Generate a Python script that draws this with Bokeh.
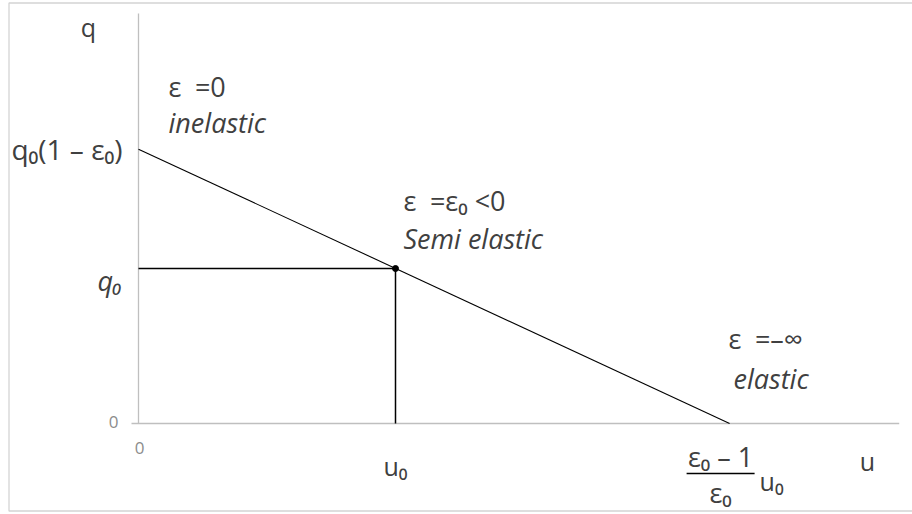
from bokeh.plotting import figure
from bokeh.core.properties import value
from bokeh.embed import file_html
from bokeh.resources import INLINE

# ---- data (in units of u0 and q0) ----
u0 = 1.0
q0 = 1.0
demand_u = [0.0, 2.30]          # u at q0(1-eps0) and at (eps0-1)/eps0 * u0
demand_q = [1.77, 0.0]          # q0(1-eps0) and 0
point_u = [u0]
point_q = [q0]
axis_u_end = 2.96
axis_q_end = 2.645

# pixel scale of the reference (px per unit)
PX_U = 257.0
PX_Q = 155.0

W, H = 912, 514
x0 = -138 / PX_U
x1 = x0 + W / PX_U
y1 = 423 / PX_Q
y0 = y1 - H / PX_Q

p = figure(width=W, height=H, x_range=(x0, x1), y_range=(y0, y1),
           x_axis_location=None, y_axis_location=None,
           toolbar_location=None, output_backend="svg",
           min_border=0, outline_line_color=None,
           background_fill_color="white", border_fill_color="white")
p.xgrid.visible = False
p.ygrid.visible = False

def du(px):
    return px / PX_U

def dq(px):
    return px / PX_Q

# outer border (top, left, bottom)
bx = x0 + du(8.5)
bt = y1 - dq(2.5)
bb = y1 - dq(510.5)
p.line([x1 + 1, bx, bx, x1 + 1], [bt, bt, bb, bb],
       line_color="#d4d4d4", line_width=1.3)

# axes
p.line([0, 0], [0, axis_q_end], line_color="#bfbfbf", line_width=1.3)
p.line([-du(7), axis_u_end], [0, 0], line_color="#bfbfbf", line_width=1.3)

# guides to (u0, q0)
p.line([0, point_u[0], point_u[0]], [point_q[0], point_q[0], 0], line_color="black", line_width=1.5)

# demand line
p.line(demand_u, demand_q, line_color="black", line_width=1.1)
p.scatter(point_u, point_q, size=6, color="black")

TXT = "#404040"
F = value("Open Sans")

def label(x, y, t, size="27px", align="left", style="normal", color=TXT):
    p.text([x], [y], text=[t], text_font=F, text_font_size=value(size),
           text_align=align, text_baseline="middle", text_font_style=style,
           text_color=color)

# axis names
label(-du(50), dq(397), "q", size="25px", align="center")
label(du(729), -dq(37), "u", size="25px", align="center")

# tick labels
label(-du(25), dq(2), "0", size="17px", align="center", color="#8c8c8c")
label(du(1), -dq(24), "0", size="17px", align="center", color="#8c8c8c")
label(-du(16), demand_q[0] * q0, "q\u2080(1 \u2013 \u03b5\u2080)", size="28px", align="right")
label(-du(16), q0 - dq(12), "q\u2080", align="right", style="italic")
label(u0, -dq(42), "u\u2080", size="25px", align="center")

# fraction (eps0 - 1)/eps0 * u0
fx = demand_u[1] - du(9)
label(fx, -dq(33), "\u03b5\u2080 \u2013 1", align="center")
p.line([fx - du(34), fx + du(34)], [-dq(50), -dq(50)], line_color="black", line_width=1.5)
label(fx, -dq(69), "\u03b5\u2080", align="center")
label(fx + du(39), -dq(57), "u\u2080", size="25px", align="left")

# annotations
label(du(30), dq(337), "\u03b5\u2002=0")
label(du(30), dq(301), "inelastic", style="italic")
label(du(265), dq(223), "\u03b5\u2002=\u03b5\u2080 <0")
label(du(265), dq(185), "Semi elastic", style="italic")
label(du(590), dq(85), "\u03b5\u2002=\u2013\u221e")
label(du(595), dq(45), "elastic", style="italic")

open("out.html", "w").write(file_html(p, INLINE))
